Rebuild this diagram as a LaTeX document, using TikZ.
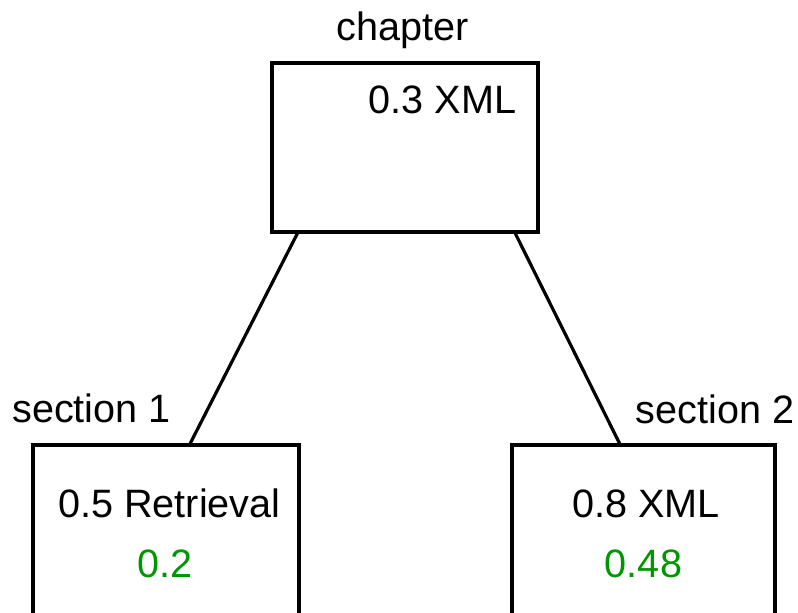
\documentclass[tikz,border=0pt]{standalone}
\usepackage{fontspec}
\setmainfont{Liberation Sans}
\usetikzlibrary{calc}
\definecolor{scoregreen}{RGB}{0,150,0}

\begin{document}
\begin{tikzpicture}
  [x={(0.5pt,0)},y={(0,-0.5pt)},line width=1.6pt,
   every node/.style={font=\fontsize{19.8}{24}\selectfont,inner sep=0pt},
   box/.style={draw,rectangle,minimum width=133pt},
   lbl/.style={anchor=base},
   score/.style={anchor=base,text=scoregreen}]
  \clip (0,0) rectangle (798,612);
  \useasboundingbox (0,0) rectangle (798,612);
  \node[box,minimum height=84.5pt] (chap) at (405,147.5) {};
  \node[box,minimum height=110pt] (sec1) at (166,555) {};
  \node[box,minimum height=110pt,minimum width=131.5pt] (sec2) at (643.5,555) {};

  \node[lbl] (chapname) at (403,40) {chapter};
  \node[lbl] (sec1name) at (91.5,422) {section 1};
  \node[lbl] (sec2name) at (715,423) {section 2};

  \node[anchor=base east] (chapterm) at (518,113) {0.3 XML};
  \node[lbl] (sec1term) at (169.5,517) {0.5 Retrieval};
  \node[score] (sec1score) at (165,577) {0.2};
  \node[lbl] (sec2term) at (646,517) {0.8 XML};
  \node[score] (sec2score) at (643.5,577) {0.48};

  \draw ($(chap.south west)!0.1!(chap.south east)$) -- ($(sec1.north west)!0.59!(sec1.north east)$);
  \draw ($(chap.south west)!0.91!(chap.south east)$) -- ($(sec2.north west)!0.41!(sec2.north east)$);
\end{tikzpicture}
\end{document}
